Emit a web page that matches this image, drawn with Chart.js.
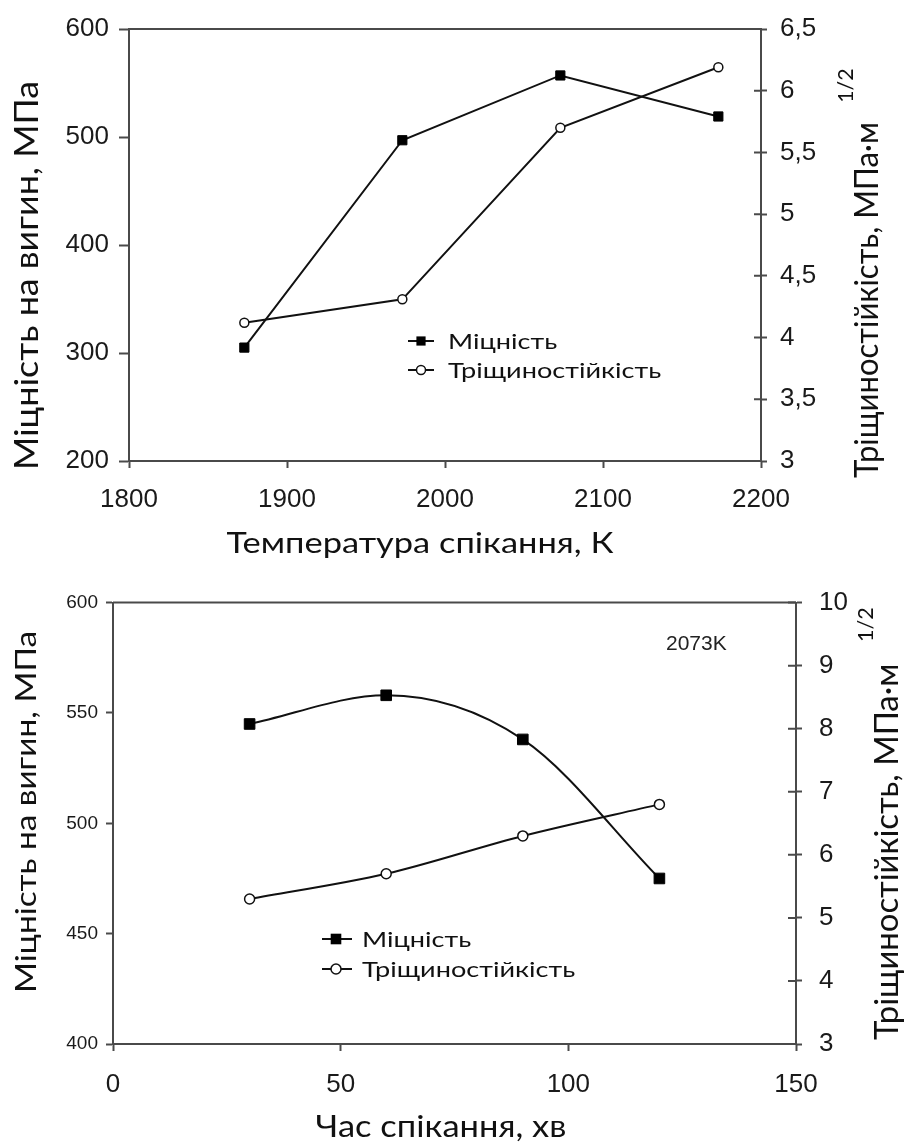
<!DOCTYPE html>
<html lang="uk">
<head>
<meta charset="UTF-8">
<title>Міцність і тріщиностійкість</title>
<script src="https://cdn.jsdelivr.net/npm/chart.js"></script>
<style>
    body {
        margin: 0;
        background: #fff;
    }

    /* two stacked panels, one canvas each */
    .panel {
        position: absolute;
        left: 0;
    }
    #topPanel { top: 0; }
    #bottomPanel { top: 570px; }
</style>
</head>
<body>
<div class="panel" id="topPanel"><canvas id="tempChart" width="906" height="570"></canvas></div>
<div class="panel" id="bottomPanel"><canvas id="timeChart" width="906" height="576"></canvas></div>

<script>
// sintering temperature, K
const temps = [1873, 1973, 2073, 2173];
const strengthByTemp = [305, 497, 557, 519];      // MPa
const toughnessByTemp = [4.12, 4.31, 5.70, 6.19]; // MPa·m^1/2

// sintering time at 2073 K, min
const times = [30, 60, 90, 120];
const strengthByTime = [545, 558, 538, 475];
const toughnessByTime = [5.3, 5.7, 6.3, 6.8];

const seriesNames = ['Міцність', 'Тріщиностійкість'];

const AXIS = '#4a4a4a';
const INK = '#111';
const TICK_FONT = '"Liberation Sans", Arial, sans-serif';
const TITLE_FONT = 'Lato, "Open Sans", sans-serif';

function points(xs, ys) {
    return xs.map((x, i) => ({ x: x, y: ys[i] }));
}

// plain numbers, decimal comma
function commaNum(v) {
    return String(v).replace('.', ',');
}

function strengthSet(data, radius, smooth) {
    return {
        label: seriesNames[0],
        data: data,
        yAxisID: 'y',
        borderColor: INK,
        borderWidth: 2,
        pointStyle: 'rect',
        pointRadius: radius,
        pointBackgroundColor: '#000',
        pointBorderColor: '#000',
        pointBorderWidth: 1,
        cubicInterpolationMode: smooth ? 'monotone' : 'default',
        tension: 0
    };
}

function toughnessSet(data, radius, smooth) {
    return {
        label: seriesNames[1],
        data: data,
        yAxisID: 'y1',
        borderColor: INK,
        borderWidth: 2,
        pointStyle: 'circle',
        pointRadius: radius,
        pointBackgroundColor: '#fff',
        pointBorderColor: INK,
        pointBorderWidth: 1.5,
        cubicInterpolationMode: smooth ? 'monotone' : 'default',
        tension: 0
    };
}

// vertical title, drawn bottom-to-top, with optional superscript
function drawVTitle(ctx, t) {
    ctx.save();
    ctx.translate(t.x, t.y);
    ctx.rotate(-Math.PI / 2);
    ctx.scale(t.sx || 1, 1);
    ctx.fillStyle = INK;
    ctx.textAlign = 'left';
    ctx.textBaseline = 'alphabetic';
    ctx.font = t.size + 'px ' + TITLE_FONT;
    ctx.fillText(t.text, 0, 0);
    if (t.sup) {
        const w = ctx.measureText(t.text).width;
        ctx.font = t.supSize + 'px ' + TITLE_FONT;
        ctx.fillText(t.sup, w + t.supGap, -t.supRaise);
    }
    ctx.restore();
}

// horizontal text, optionally widened
function drawHText(ctx, text, x, y, size, sx, align) {
    ctx.save();
    ctx.translate(x, y);
    ctx.scale(sx, 1);
    ctx.font = size + 'px ' + TITLE_FONT;
    ctx.textAlign = align;
    ctx.fillText(text, 0, 0);
    ctx.restore();
}

// frame top edge, inner ticks on the right axis, titles, legend and notes
const decor = {
    id: 'decor',
    afterDraw(chart, args, o) {
        const ctx = chart.ctx;
        const a = chart.chartArea;
        ctx.save();

        ctx.strokeStyle = AXIS;
        ctx.lineWidth = 2;
        ctx.beginPath();
        ctx.moveTo(a.left, a.top);
        ctx.lineTo(a.right, a.top);
        ctx.stroke();

        const y1 = chart.scales.y1;
        ctx.beginPath();
        y1.ticks.forEach(t => {
            const py = y1.getPixelForValue(t.value);
            ctx.moveTo(a.right - o.innerTick, py);
            ctx.lineTo(a.right, py);
        });
        ctx.stroke();

        o.vTitles.forEach(t => drawVTitle(ctx, t));

        ctx.fillStyle = INK;
        ctx.textBaseline = 'alphabetic';
        drawHText(ctx, o.xTitle.text, o.xTitle.x, o.xTitle.y, o.xTitle.size, o.xTitle.sx, 'center');

        // legend
        const L = o.legend;
        chart.data.datasets.forEach((ds, i) => {
            const y = L.y + i * L.gap;
            ctx.strokeStyle = INK;
            ctx.lineWidth = 2;
            ctx.beginPath();
            ctx.moveTo(L.x0, y);
            ctx.lineTo(L.x1, y);
            ctx.stroke();
            if (ds.pointStyle === 'rect') {
                const s = ds.pointRadius * Math.SQRT1_2;
                ctx.fillStyle = '#000';
                ctx.fillRect(L.mx - s, y - s, 2 * s, 2 * s);
            } else {
                ctx.beginPath();
                ctx.arc(L.mx, y, ds.pointRadius, 0, Math.PI * 2);
                ctx.fillStyle = '#fff';
                ctx.fill();
                ctx.lineWidth = 1.5;
                ctx.stroke();
            }
            ctx.fillStyle = INK;
            ctx.textBaseline = 'middle';
            drawHText(ctx, ds.label, L.tx, y + 1, L.size, L.sx, 'left');
        });

        if (o.note) {
            ctx.fillStyle = '#222';
            ctx.font = o.note.size + 'px ' + TICK_FONT;
            ctx.textAlign = 'left';
            ctx.textBaseline = 'middle';
            ctx.fillText(o.note.text, o.note.x, o.note.y);
        }
        ctx.restore();
    }
};

function axisGrid(len) {
    return {
        display: true,
        drawOnChartArea: false,
        drawTicks: true,
        tickLength: len,
        tickWidth: 2,
        tickColor: AXIS
    };
}

function makeChart(id, cfg) {
    return new Chart(document.getElementById(id), {
        type: 'line',
        data: { datasets: cfg.datasets },
        options: {
            responsive: false,
            animation: false,
            events: [],
            layout: { padding: { top: cfg.padTop, left: 0, right: 0, bottom: 0 } },
            scales: {
                x: {
                    type: 'linear',
                    min: cfg.x.min, max: cfg.x.max,
                    border: { color: AXIS, width: 2 },
                    grid: axisGrid(7),
                    ticks: {
                        stepSize: cfg.x.step,
                        color: '#1a1a1a',
                        padding: cfg.x.pad,
                        maxRotation: 0,
                        font: { family: TICK_FONT, size: cfg.x.font },
                        callback: commaNum
                    },
                    afterFit: s => { s.height = cfg.x.band; }
                },
                y: {
                    position: 'left',
                    min: cfg.y.min, max: cfg.y.max,
                    border: { color: AXIS, width: 2 },
                    grid: axisGrid(cfg.y.tick),
                    ticks: {
                        stepSize: cfg.y.step,
                        color: '#1a1a1a',
                        padding: cfg.y.pad,
                        font: { family: TICK_FONT, size: cfg.y.font },
                        callback: commaNum
                    },
                    afterFit: s => { s.width = cfg.y.band; }
                },
                y1: {
                    position: 'right',
                    min: cfg.y1.min, max: cfg.y1.max,
                    border: { color: AXIS, width: 2 },
                    grid: axisGrid(6),
                    ticks: {
                        stepSize: cfg.y1.step,
                        color: '#1a1a1a',
                        padding: cfg.y1.pad,
                        font: { family: TICK_FONT, size: cfg.y1.font },
                        callback: commaNum
                    },
                    afterFit: s => { s.width = cfg.y1.band; }
                }
            },
            plugins: {
                legend: { display: false },
                tooltip: { enabled: false },
                decor: cfg.decor
            }
        },
        plugins: [decor]
    });
}

// strength and toughness vs sintering temperature
makeChart('tempChart', {
    datasets: [
        strengthSet(points(temps, strengthByTemp), 6.5, false),
        toughnessSet(points(temps, toughnessByTemp), 4.5, false)
    ],
    padTop: 29,
    x: { min: 1800, max: 2200, step: 100, font: 26, pad: 16, band: 109 },
    y: { min: 200, max: 600, step: 100, font: 26, pad: 10, tick: 10, band: 129 },
    y1: { min: 3, max: 6.5, step: 0.5, font: 26, pad: 13, band: 145 },
    decor: {
        innerTick: 7,
        vTitles: [
            { text: 'Міцність на вигин, МПа', x: 38, y: 470, size: 32, sx: 1.12 },
            { text: 'Тріщиностійкість, МПа·м', x: 878, y: 478, size: 32, sx: 0.97,
              sup: '1/2', supSize: 22, supGap: 20, supRaise: 25 }
        ],
        xTitle: { text: 'Температура спікання, К', x: 420, y: 553, size: 28, sx: 1.23 },
        legend: { y: 341, gap: 29, x0: 408, x1: 434, mx: 421, tx: 448, size: 21, sx: 1.29 }
    }
});

// strength and toughness vs sintering time
makeChart('timeChart', {
    datasets: [
        strengthSet(points(times, strengthByTime), 7.5, true),
        toughnessSet(points(times, toughnessByTime), 5, true)
    ],
    padTop: 26,
    x: { min: 0, max: 150, step: 50, font: 26, pad: 18, band: 102 },
    y: { min: 400, max: 600, step: 50, font: 19, pad: 8, tick: 7, band: 113 },
    y1: { min: 3, max: 10, step: 1, font: 26, pad: 17, band: 110 },
    decor: {
        innerTick: 8,
        vTitles: [
            { text: 'Міцність на вигин, МПа', x: 36, y: 423, size: 29, sx: 1.15 },
            { text: 'Тріщиностійкість, МПа·м', x: 898, y: 470, size: 33.5, sx: 0.98,
              sup: '1/2', supSize: 22, supGap: 22, supRaise: 25 }
        ],
        xTitle: { text: 'Час спікання, хв', x: 441, y: 567, size: 30, sx: 1.15 },
        legend: { y: 369, gap: 30, x0: 322, x1: 352, mx: 336, tx: 362, size: 21, sx: 1.29 },
        note: { text: '2073K', x: 666, y: 74, size: 21 }
    }
});
</script>
</body>
</html>
